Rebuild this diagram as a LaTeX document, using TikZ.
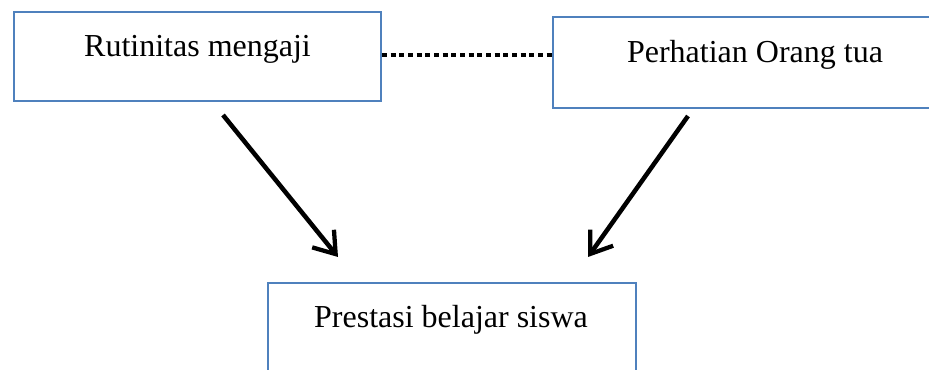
\documentclass[tikz,border=0pt]{standalone}
\usepackage{fontspec}
\setmainfont{Liberation Serif}
\usetikzlibrary{arrows.meta}
\definecolor{boxblue}{HTML}{4F81BD}
\begin{document}
\begin{tikzpicture}[x=0.75pt,y=-0.75pt,
  boxframe/.style={draw=boxblue,line width=1.6pt},
  lbl/.style={anchor=base,inner sep=0pt,font=\fontsize{24}{28}\selectfont},
  arr/.style={line width=3.4pt,-{Straight Barb[length=15pt,width=21pt,line width=3.2pt]}},
  dotline/.style={line width=3.6pt,dash pattern=on 3.75pt off 2.75pt}]
\useasboundingbox (0,0) rectangle (929,370);
\clip (0,0) rectangle (929,370);
% boxes
\draw[boxframe] (14,12) rectangle (381,101);
\draw[boxframe] (553,17) rectangle (970,108);
\draw[boxframe] (268,283) rectangle (636,390);
\coordinate (Le) at (382,55);
\coordinate (Rw) at (552,55);
\node[lbl] (t1) at (197.5,57) {Rutinitas mengaji};
\node[lbl] (t2) at (755,63) {Perhatian Orang tua};
\node[lbl] (t3) at (451,328) {Prestasi belajar siswa};
% connectors
\draw[dotline] (Le) -- (Rw);
\coordinate (a1s) at (223,115);
\coordinate (a1e) at (338,257);
\coordinate (a2s) at (688,116);
\coordinate (a2e) at (588,257);
\draw[arr] (a1s) -- (a1e);
\draw[arr] (a2s) -- (a2e);
\end{tikzpicture}
\end{document}
